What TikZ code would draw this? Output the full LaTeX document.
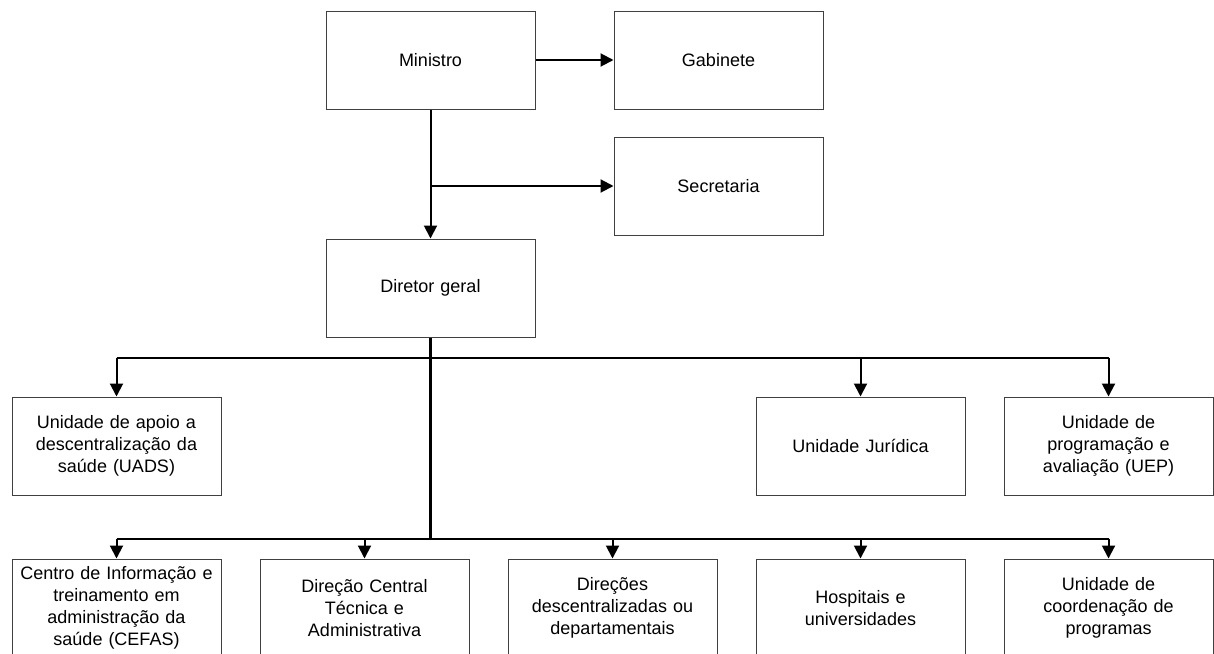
\documentclass[tikz,border=0pt]{standalone}
\usepackage{fontspec}
\setmainfont{Liberation Sans}
\usetikzlibrary{positioning}
\usetikzlibrary{arrows.meta}
\tikzset{line/.style={draw, line width=1pt, -{Triangle[length=6.5pt,width=6.5pt]}}}

\begin{document}
\begin{tikzpicture}[x=1pt,y=1pt]
\tikzstyle{block} = [rectangle, draw=black!75, line width=0.5pt, text width=100pt, align=center, minimum width=104.5pt, minimum height=49pt, inner sep=0pt, font=\fontsize{9}{11}\selectfont]

\path[use as bounding box, clip] (0,0) rectangle (607,-326.5);

% blocks
    % top
    \node [block] (ministro) at (215.25,-30) {Ministro};
    \node [block, right=39pt of ministro] (gabinete) {Gabinete};
    \node [block, below=13.5pt of gabinete] (secretaria) {Secretaria};
    \node [block, below=64.5pt of ministro] (diretor) {Diretor geral};
    % row1
    \node [block] (uads) at (58.25,-223) {Unidade de apoio a\\ descentralização da\\ saúde (UADS)};
    % row2
    \node [block, below=31.5pt of uads] (cefas) {Centro de Informação e\\ treinamento em\\ administração da\\ saúde (CEFAS)};
    \node [block, right=19pt of cefas] (central) {Direção Central\\ Técnica e\\ Administrativa};
    \node [block, right=19pt of central] (direcoes) {Direções\\ descentralizadas ou\\ departamentais};
    \node [block, right=19pt of direcoes] (hospitais) {Hospitais e\\ universidades};
    \node [block, right=19pt of hospitais] (coordenacao) {Unidade de\\ coordenação de\\ programas};
    % row1 right
    \node [block, above=31.5pt of hospitais] (juridica) {Unidade Jurídica};
    \node [block, above=31.5pt of coordenacao] (uep) {Unidade de\\ programação e\\ avaliação (UEP)};
    % buses
    \coordinate [above=19.5pt of uads.north] (bus1);
    \coordinate [above=10pt of cefas.north] (bus2);

% arrows
    % top
    \path [line] (ministro.east) -- (gabinete.west);
    \path [line] (ministro.south) -- (diretor.north);
    \path [line] (ministro.south |- secretaria.west) -- (secretaria.west);
    % trunk
    \draw [line width=1.5pt] (diretor.south) -- (diretor.south |- bus2);
    % row1
    \draw [line width=1pt] (bus1) -- (uep.north |- bus1);
    \foreach \n in {uads, juridica, uep}
        \path [line] (\n.north |- bus1) -- (\n.north);
    % row2
    \draw [line width=1pt] (bus2) -- (coordenacao.north |- bus2);
    \foreach \n in {cefas, central, direcoes, hospitais, coordenacao}
        \path [line] (\n.north |- bus2) -- (\n.north);
\end{tikzpicture}
\end{document}
